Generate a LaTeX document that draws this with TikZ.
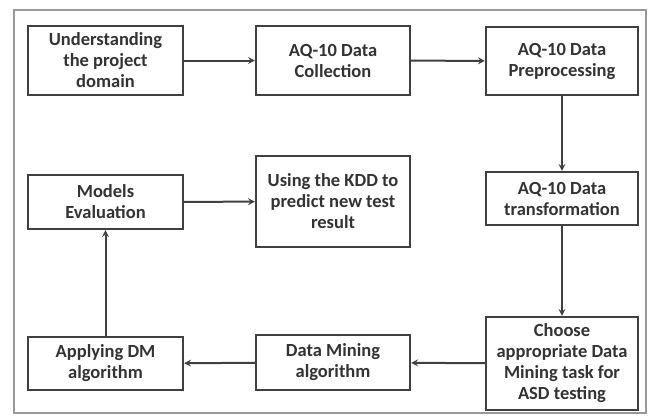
\documentclass[tikz,border=0pt]{standalone}
\usepackage{fontspec}
\setmainfont{Carlito}
\usepackage{tikz}
\usetikzlibrary{positioning}
\usetikzlibrary{arrows}
\tikzset{
every box/.style={ % Sets the properties for each step box
draw=black!75,
line width=2.2pt,
fill=white,
align=center,
inner sep=2pt,
font=\bfseries\fontsize{18.5}{21}\selectfont,
text=black!80},
every link/.style={ % Sets the properties for each connector
draw=black!75,
line width=2pt,
->,
>=stealth}}

\begin{document}
\begin{tikzpicture}[x=1pt,y=-1pt]
\useasboundingbox (0,0) rectangle (650,416);
\draw[black!40, line width=2pt] (14,10) rectangle (646,413);
\node[every box, minimum width=155pt, minimum height=69pt] (b1) at (105.5,60.5) {Understanding\\the project\\domain};
\node[every box, minimum width=154pt, minimum height=69pt] (b2) at (333,60.5) {AQ-10 Data\\Collection};
\node[every box, minimum width=152pt, minimum height=68pt] (b3) at (562,61) {AQ-10 Data\\Preprocessing};
\node[every box, minimum width=152pt, minimum height=53pt] (b4) at (562,198.5) {AQ-10 Data\\transformation};
\node[every box, minimum width=152pt, minimum height=93pt] (b5) at (562,363.5) {Choose\\appropriate Data\\Mining task for\\ASD testing};
\node[every box, minimum width=154pt, minimum height=55pt] (b6) at (333,362.5) {Data Mining\\algorithm};
\node[every box, minimum width=155pt, minimum height=53pt] (b7) at (105.5,363.5) {Applying DM\\algorithm};
\node[every box, minimum width=155pt, minimum height=54pt] (b8) at (105.5,202) {Models\\Evaluation};
\node[every box, minimum width=154pt, minimum height=91pt] (b9) at (333,201.5) {Using the KDD to\\predict new test\\result};
\draw[every link] (b1) -- (b2);
\draw[every link] (b2) -- (b3);
\draw[every link] (b3) -- (b4);
\draw[every link] (b4) -- (b5);
\draw[every link] (b5) -- (b6);
\draw[every link] (b6) -- (b7);
\draw[every link] (b7) -- (b8);
\draw[every link] (b8) -- (b9);
\end{tikzpicture}
\end{document}
